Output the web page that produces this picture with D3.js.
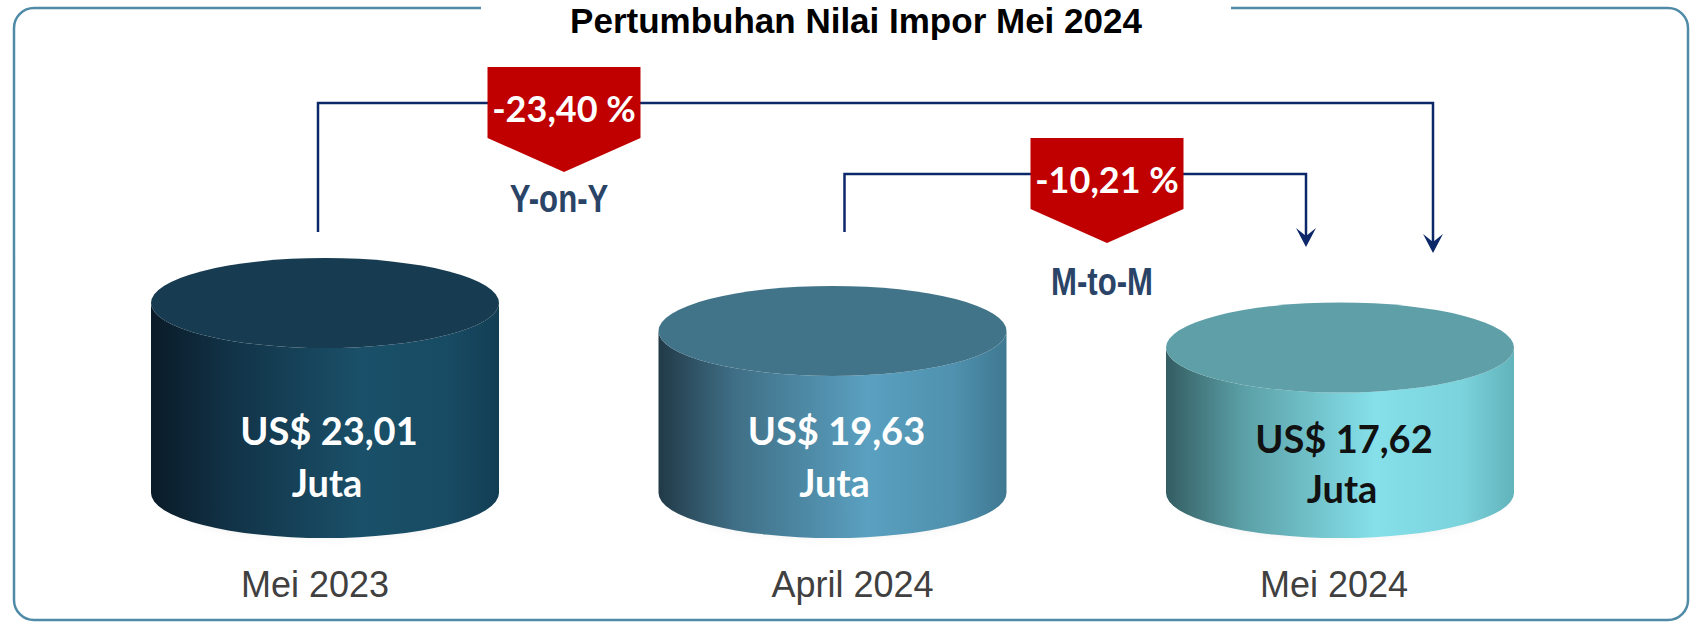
<!DOCTYPE html>
<html>
<head>
<meta charset="utf-8">
<script src="https://cdn.jsdelivr.net/npm/d3@7"></script>
<style>
  html, body { margin: 0; padding: 0; background: #fff; }
  svg { display: block; }
</style>
</head>
<body>
<div id="chart"></div>
<script>
// data
const categories = ["Mei 2023", "April 2024", "Mei 2024"];
const values = [23.01, 19.63, 17.62];
const changeLabels = ["Y-on-Y", "M-to-M"];
const changeValues = [-23.40, -10.21];
const changeFrom = [0, 1];
const changeTo = [2, 2];

const width = 1693, height = 622;

const locale = d3.formatLocale({decimal: ",", thousands: ".", grouping: [3], currency: ["US$ ", ""], minus: "-"});
const fmt = locale.format(".2f");

const svg = d3.select("#chart").append("svg")
    .attr("width", width)
    .attr("height", height);

const defs = svg.append("defs");

// palettes per cylinder: top face, body gradient stops
const palettes = [
    {top: "#173b50", stops: ["#0a1b28", "#113246", "#1a5069", "#184b64", "#123e54"], text: "#ffffff"},
    {top: "#417489", stops: ["#223a48", "#3f6f86", "#5aa0c0", "#4f91ae", "#3f7891"], text: "#ffffff"},
    {top: "#5fa0a8", stops: ["#335d62", "#5b9fa6", "#85e0ea", "#7bd3dc", "#62b3bb"], text: "#111111"}
];
const stopOffsets = [0, 0.22, 0.6, 0.85, 1];

palettes.forEach(function(p, i) {
    let g = defs.append("linearGradient")
        .attr("id", "body" + i)
        .attr("x1", 0).attr("x2", 1).attr("y1", 0).attr("y2", 0);
    p.stops.forEach(function(c, j) {
        g.append("stop").attr("offset", stopOffsets[j]).attr("stop-color", c);
    });
});

defs.append("filter").attr("id", "blur")
    .attr("x", "-20%").attr("y", "-50%").attr("width", "140%").attr("height", "200%")
    .append("feGaussianBlur").attr("stdDeviation", 6);

// frame with gap for title
const fx0 = 14, fy0 = 8, fx1 = 1688, fy1 = 620, fr = 20;
const gapL = 481, gapR = 1231;
const frame = d3.path();
frame.moveTo(gapR, fy0);
frame.lineTo(fx1 - fr, fy0);
frame.arcTo(fx1, fy0, fx1, fy0 + fr, fr);
frame.lineTo(fx1, fy1 - fr);
frame.arcTo(fx1, fy1, fx1 - fr, fy1, fr);
frame.lineTo(fx0 + fr, fy1);
frame.arcTo(fx0, fy1, fx0, fy1 - fr, fr);
frame.lineTo(fx0, fy0 + fr);
frame.arcTo(fx0, fy0, fx0 + fr, fy0, fr);
frame.lineTo(gapL, fy0);
svg.append("path")
    .attr("d", frame.toString())
    .attr("fill", "none")
    .attr("stroke", "#4f8ba7")
    .attr("stroke-width", 2.5);

svg.append("text")
    .attr("x", 856)
    .attr("y", 33)
    .attr("text-anchor", "middle")
    .style("font-family", "'Liberation Sans', Arial, sans-serif")
    .style("font-weight", "bold")
    .style("font-size", "35px")
    .attr("fill", "#000")
    .text("Pertumbuhan Nilai Impor Mei 2024");

// scales
const x = d3.scalePoint().domain(categories).range([325, 1340]);
const h = d3.scaleLinear().domain([0, d3.max(values)]).range([0, 190]);
const baseY = 493, rx = 174, ry = 45;

const cyl = svg.selectAll("g.cyl")
    .data(values)
    .enter().append("g")
    .attr("class", "cyl")
    .attr("transform", function(d, i) { return "translate(" + x(categories[i]) + ",0)"; });

// soft shadow
cyl.append("ellipse")
    .attr("cx", 0).attr("cy", baseY + 16)
    .attr("rx", rx * 0.8).attr("ry", ry * 0.55)
    .attr("fill", "#b8b8b8")
    .attr("opacity", 0.45)
    .attr("filter", "url(#blur)");

cyl.append("path")
    .attr("d", function(d) {
        let top = baseY - h(d);
        return "M" + (-rx) + "," + top +
            " L" + (-rx) + "," + baseY +
            " A" + rx + "," + ry + " 0 0 0 " + rx + "," + baseY +
            " L" + rx + "," + top +
            " A" + rx + "," + ry + " 0 0 1 " + (-rx) + "," + top + " Z";
    })
    .attr("fill", function(d, i) { return "url(#body" + i + ")"; });

cyl.append("ellipse")
    .attr("cx", 0)
    .attr("cy", function(d) { return baseY - h(d); })
    .attr("rx", rx).attr("ry", ry)
    .attr("fill", function(d, i) { return palettes[i].top; });

cyl.append("text")
    .attr("x", 4)
    .attr("y", function(d, i) { return baseY - 48 + (i === 2 ? 8 : 0); })
    .attr("text-anchor", "middle")
    .style("font-family", "Lato, 'Open Sans', sans-serif")
    .style("font-weight", "bold")
    .style("font-size", "38px")
    .attr("fill", function(d, i) { return palettes[i].text; })
    .text(function(d) { return "US$ " + fmt(d); });

cyl.append("text")
    .attr("x", 2)
    .attr("y", function(d, i) { return baseY + 4 + (i === 2 ? 6 : 0); })
    .attr("text-anchor", "middle")
    .style("font-family", "Lato, 'Open Sans', sans-serif")
    .style("font-weight", "bold")
    .style("font-size", "38px")
    .attr("fill", function(d, i) { return palettes[i].text; })
    .text("Juta");

cyl.append("text")
    .attr("x", function(d, i) { return [-10, 20, -6][i]; })
    .attr("y", 597)
    .attr("text-anchor", "middle")
    .style("font-family", "'Liberation Sans', Arial, sans-serif")
    .style("font-size", "36px")
    .attr("fill", "#404040")
    .text(function(d, i) { return categories[i]; });

// growth connectors
const conn = [
    {x0: x(categories[changeFrom[0]]) - 7, x1: x(categories[changeTo[0]]) + 93, yLine: 103, yEnd: 253, badgeX: 564, labelY: 212},
    {x0: x(categories[changeFrom[1]]) + 12, x1: x(categories[changeTo[1]]) - 34, yLine: 174, yEnd: 247, badgeX: 1107, labelY: 295}
];
const lineColor = "#0c2868";
const startY = 232;

conn.forEach(function(c, i) {
    let g = svg.append("g");
    g.append("polyline")
        .attr("points", [[c.x0, startY], [c.x0, c.yLine], [c.x1, c.yLine], [c.x1, c.yEnd - 6]].join(" "))
        .attr("fill", "none")
        .attr("stroke", lineColor)
        .attr("stroke-width", 2.5);
    // arrow head
    g.append("path")
        .attr("d", "M" + c.x1 + "," + c.yEnd +
            " L" + (c.x1 - 10) + "," + (c.yEnd - 19) +
            " L" + c.x1 + "," + (c.yEnd - 11) +
            " L" + (c.x1 + 10) + "," + (c.yEnd - 19) + " Z")
        .attr("fill", lineColor);

    // red badge
    let bw = 153, top = c.yLine - 36, bh = 71, tip = 34;
    g.append("path")
        .attr("d", "M" + (c.badgeX - bw / 2) + "," + top +
            " H" + (c.badgeX + bw / 2) +
            " V" + (top + bh) +
            " L" + c.badgeX + "," + (top + bh + tip) +
            " L" + (c.badgeX - bw / 2) + "," + (top + bh) + " Z")
        .attr("fill", "#c00000");
    g.append("text")
        .attr("x", c.badgeX)
        .attr("y", top + 55)
        .attr("text-anchor", "middle")
        .style("font-family", "Lato, 'Open Sans', sans-serif")
        .style("font-weight", "bold")
        .style("font-size", "36px")
        .attr("fill", "#fff")
        .text(fmt(changeValues[i]) + " %");

    g.append("text")
        .attr("transform", "translate(" + (c.badgeX - 5) + "," + c.labelY + ") scale(0.82,1)")
        .attr("text-anchor", "middle")
        .style("font-family", "'Liberation Sans', Arial, sans-serif")
        .style("font-weight", "bold")
        .style("font-size", "38px")
        .attr("fill", "#2a4467")
        .text(changeLabels[i]);
});
</script>
</body>
</html>
